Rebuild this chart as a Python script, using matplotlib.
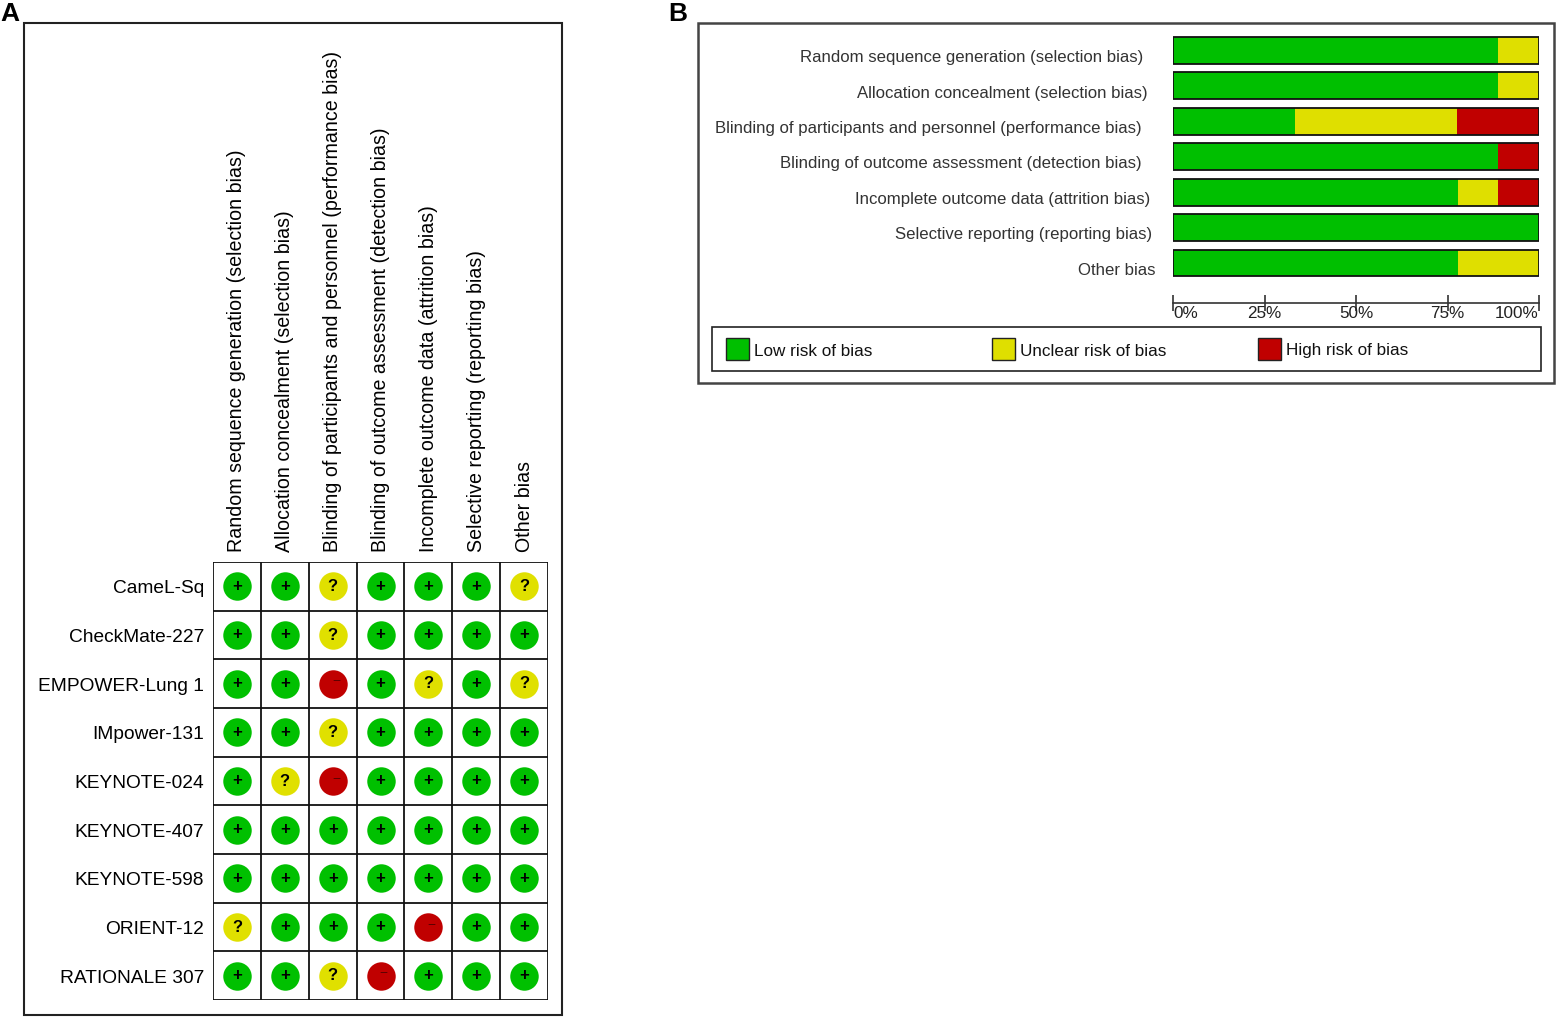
import matplotlib
matplotlib.use("Agg")
import matplotlib.pyplot as plt
from matplotlib.patches import Rectangle

plt.rcParams['font.family'] = ['Liberation Sans', 'DejaVu Sans']

# ---------------- data ----------------
domains = [
    "Random sequence generation (selection bias)",
    "Allocation concealment (selection bias)",
    "Blinding of participants and personnel (performance bias)",
    "Blinding of outcome assessment (detection bias)",
    "Incomplete outcome data (attrition bias)",
    "Selective reporting (reporting bias)",
    "Other bias",
]
studies = [
    "CameL-Sq", "CheckMate-227", "EMPOWER-Lung 1", "IMpower-131",
    "KEYNOTE-024", "KEYNOTE-407", "KEYNOTE-598", "ORIENT-12", "RATIONALE 307",
]
# judgements per study across domains: L = low, U = unclear, H = high
judgements = [
    ["L", "L", "U", "L", "L", "L", "U"],
    ["L", "L", "U", "L", "L", "L", "L"],
    ["L", "L", "H", "L", "U", "L", "U"],
    ["L", "L", "U", "L", "L", "L", "L"],
    ["L", "U", "H", "L", "L", "L", "L"],
    ["L", "L", "L", "L", "L", "L", "L"],
    ["L", "L", "L", "L", "L", "L", "L"],
    ["U", "L", "L", "L", "H", "L", "L"],
    ["L", "L", "U", "H", "L", "L", "L"],
]
# percentages per domain (panel B)
low_pct = [88.9, 88.9, 33.3, 88.9, 77.8, 100.0, 77.8]
unclear_pct = [11.1, 11.1, 44.4, 0.0, 11.1, 0.0, 22.2]
high_pct = [0.0, 0.0, 22.2, 11.1, 11.1, 0.0, 0.0]
xticks = [0, 25, 50, 75, 100]
xtick_labels = ["0%", "25%", "50%", "75%", "100%"]
legend_labels = ["Low risk of bias", "Unclear risk of bias", "High risk of bias"]

# ---------------- style ----------------
GREEN_C, YELLOW_C, RED_C = "#00C000", "#E0E000", "#C00000"
GREEN_B, YELLOW_B, RED_B = "#00BF00", "#DFDF00", "#C00000"
sym = {"L": "+", "U": "?", "H": "\u2212"}
circ_col = {"L": GREEN_C, "U": YELLOW_C, "H": RED_C}
sym_col = {"L": "black", "U": "black", "H": "#600000"}

W, H = 1562, 1024
fig = plt.figure(figsize=(W / 100, H / 100), dpi=100)


def px_axes(x0, y0, x1, y1, **kw):
    return fig.add_axes([x0 / W, 1 - y1 / H, (x1 - x0) / W, (y1 - y0) / H], **kw)


# background (frames, panel letters, legend)
bg = px_axes(0, 0, W, H)
bg.set_xlim(0, W)
bg.set_ylim(H, 0)
bg.axis("off")
bg.add_patch(Rectangle((24, 23), 538, 992, fill=False, ec="#222222", lw=1.5))
bg.add_patch(Rectangle((698, 23), 856, 360, fill=False, ec="#444444", lw=1.8))
bg.add_patch(Rectangle((712, 327), 829, 44, fill=False, ec="#222222", lw=1.2))
bg.text(10, 14, "A", fontsize=19, fontweight="bold", ha="center", va="center")
bg.text(678, 14, "B", fontsize=19, fontweight="bold", ha="center", va="center")
leg_x = [726, 992, 1258]
for x, lab, c in zip(leg_x, legend_labels, [GREEN_B, YELLOW_B, RED_B]):
    bg.add_patch(Rectangle((x, 338), 23, 22, fc=c, ec="#222222", lw=1.0))
    bg.text(x + 28, 351, lab, fontsize=12.3, ha="left", va="center", color="#111111")

# ---------------- panel A ----------------
axA = px_axes(213, 562, 548, 1000)
nr, nc = len(studies), len(domains)
axA.set_xlim(0, nc)
axA.set_ylim(nr, 0)
for i in range(nc + 1):
    axA.axvline(i, color="#111111", lw=1.3)
for j in range(nr + 1):
    axA.axhline(j, color="#111111", lw=1.3)
axA.set_xticks([])
axA.set_yticks([])
for s in axA.spines.values():
    s.set_visible(False)

for r, row in enumerate(judgements):
    for c, v in enumerate(row):
        axA.scatter(c + 0.5, r + 0.5, s=420, color=circ_col[v], zorder=3, linewidths=0)
        if v == "H":
            axA.text(c + 0.57, r + 0.45, sym[v], fontsize=10, color=sym_col[v],
                     ha="center", va="center", zorder=4)
        else:
            axA.text(c + 0.5, r + 0.5, sym[v], fontsize=12, fontweight="bold",
                     color=sym_col[v], ha="center", va="center", zorder=4)

for r, name in enumerate(studies):
    axA.text(-0.19, r + 0.55, name, fontsize=13.8, ha="right", va="center")
for c, d in enumerate(domains):
    axA.text(c + 0.5, -0.2, d, fontsize=14.1, rotation=90, ha="center", va="bottom")

# ---------------- panel B ----------------
axB = px_axes(1173, 32.8, 1539, 280.7)
n = len(domains)
y = list(range(n))
axB.set_xlim(0, 100)
axB.set_ylim(n - 0.5, -0.5)
bh = 0.76
left2 = [a + b for a, b in zip(low_pct, unclear_pct)]
axB.barh(y, low_pct, height=bh, color=GREEN_B, lw=0)
axB.barh(y, unclear_pct, left=low_pct, height=bh, color=YELLOW_B, lw=0)
axB.barh(y, high_pct, left=left2, height=bh, color=RED_B, lw=0)
axB.barh(y, [100] * n, height=bh, fill=False, edgecolor="#111111", lw=1.3)

label_right_px = [1143, 1148, 1142, 1142, 1150, 1152, 1156]
for i, (d, rx) in enumerate(zip(domains, label_right_px)):
    xd = (rx - 1173) / 366 * 100
    axB.text(xd, i + 0.2, d, fontsize=12.1, ha="right", va="center", color="#333333")

for side in ["top", "left", "right"]:
    axB.spines[side].set_visible(False)
axB.spines["bottom"].set_position(("outward", 16))
axB.spines["bottom"].set_bounds(0, 100)
axB.spines["bottom"].set_color("#333333")
axB.spines["bottom"].set_linewidth(1.2)
axB.set_yticks([])
axB.set_xticks(xticks)
axB.set_xticklabels(xtick_labels)
axB.tick_params(axis="x", direction="inout", length=12, width=1.2, color="#333333",
                labelsize=12.3, labelcolor="#222222", pad=-4)
tl = axB.get_xticklabels()
tl[0].set_ha("left")
tl[-1].set_ha("right")

fig.savefig("out.png", dpi=100)
